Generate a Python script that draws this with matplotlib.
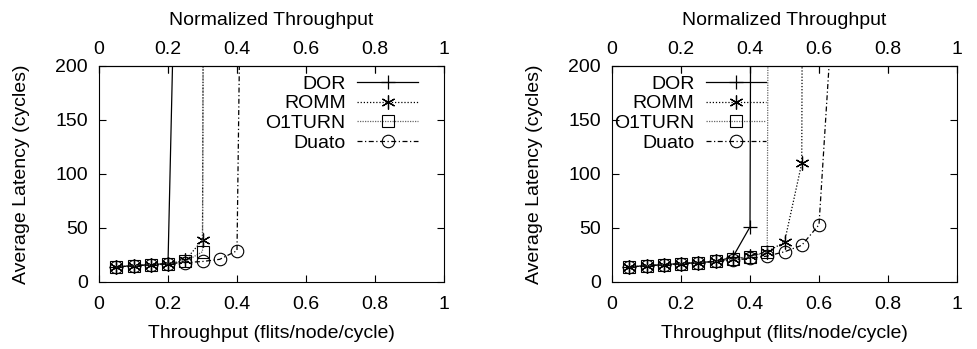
import numpy as np
import matplotlib.pyplot as plt

plt.rcParams['font.family'] = ['Liberation Sans', 'DejaVu Sans']
plt.rcParams['font.size'] = 14

# left panel
l_dor_x = [0.05, 0.10, 0.15, 0.20, 0.25]
l_dor_y = [14, 15, 16, 17, 720]
l_romm_x = [0.05, 0.10, 0.15, 0.20, 0.25, 0.30, 0.35]
l_romm_y = [14, 15, 16, 17, 20, 39, 5000]
l_o1_x = [0.05, 0.10, 0.15, 0.20, 0.25, 0.30, 0.35]
l_o1_y = [14, 15, 16, 17, 19, 28, 5000]
l_duato_x = [0.05, 0.10, 0.15, 0.20, 0.25, 0.30, 0.35, 0.40, 0.45]
l_duato_y = [14, 15, 16, 17, 18, 19, 21, 29, 1300]

# right panel
r_dor_x = [0.05, 0.10, 0.15, 0.20, 0.25, 0.30, 0.35, 0.40, 0.45]
r_dor_y = [14, 15, 16, 17, 18, 19, 23, 51, 5000]
r_romm_x = [0.05, 0.10, 0.15, 0.20, 0.25, 0.30, 0.35, 0.40, 0.45, 0.50, 0.55, 0.60]
r_romm_y = [14, 15, 16, 17, 18, 19, 21, 24, 28, 37, 110, 5000]
r_o1_x = [0.05, 0.10, 0.15, 0.20, 0.25, 0.30, 0.35, 0.40, 0.45, 0.50]
r_o1_y = [14, 15, 16, 17, 18, 19, 21, 23, 28, 5000]
r_duato_x = [0.05, 0.10, 0.15, 0.20, 0.25, 0.30, 0.35, 0.40, 0.45, 0.50, 0.55, 0.60, 0.65]
r_duato_y = [14, 15, 16, 17, 18, 19, 20, 22, 24, 28, 34, 53, 306]

labels = ["DOR", "ROMM", "O1TURN", "Duato"]
ticks = [0, 0.2, 0.4, 0.6, 0.8, 1]
tick_labels = ["0", "0.2", "0.4", "0.6", "0.8", "1"]
styles = [
    dict(ls='-', marker='+', ms=10, mew=0.9, color='black'),
    dict(ls=(0, (1, 1.5)), marker=(6, 2, 0), ms=10, mew=0.9, color='black'),
    dict(ls=(0, (1, 1)), marker='s', ms=9, mew=0.8, color='#666666', mec='black', mfc='none'),
    dict(ls=(0, (4, 2, 1, 2)), marker='o', ms=9, mew=0.8, color='black', mfc='none'),
]

fig = plt.figure(figsize=(9.77, 3.49), dpi=100)
ax1 = fig.add_axes([99/977, 1-282/349, 345/977, 216/349])
ax2 = fig.add_axes([612/977, 1-282/349, 345/977, 216/349])

def draw(ax, data, legend_loc, anchor):
    for (x, y), lab, st in zip(data, labels, styles):
        ax.plot(x, y, lw=0.9, label=lab, **st)
    ax.set_xlim(0, 1)
    ax.set_ylim(0, 200)
    ax.set_xticks(ticks)
    ax.set_xticklabels(tick_labels)
    ax.set_yticks([0, 50, 100, 150, 200])
    ax.tick_params(direction='in', length=5, width=0.8, top=True, right=True, pad=8)
    ax.tick_params(axis='x', pad=10)
    ax.set_xlabel("Throughput (flits/node/cycle)", labelpad=9)
    ax.set_ylabel("Average Latency (cycles)", labelpad=18)
    top = ax.secondary_xaxis('top')
    top.set_xticks(ticks)
    top.set_xticklabels(tick_labels)
    top.tick_params(direction='in', length=5, width=0.8, pad=5.5)
    top.set_xlabel("Normalized Throughput", labelpad=12)
    ax.legend(loc=legend_loc, bbox_to_anchor=anchor, frameon=False, markerfirst=False,
              handlelength=3.1, handletextpad=0.6, labelspacing=0.1, borderpad=0.2,
              borderaxespad=0.0, fontsize=14)

draw(ax1, [(l_dor_x, l_dor_y), (l_romm_x, l_romm_y), (l_o1_x, l_o1_y), (l_duato_x, l_duato_y)],
     'upper right', (0.935, 0.975))
draw(ax2, [(r_dor_x, r_dor_y), (r_romm_x, r_romm_y), (r_o1_x, r_o1_y), (r_duato_x, r_duato_y)],
     'upper left', (-0.005, 0.975))

fig.savefig("out.png", dpi=100)
